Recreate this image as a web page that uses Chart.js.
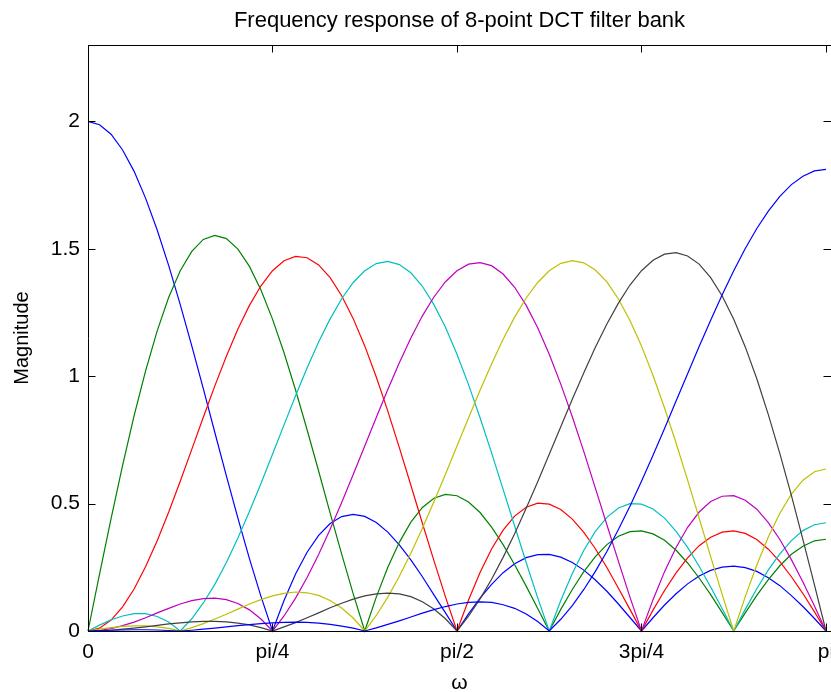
<!DOCTYPE html>
<html>
<head>
<meta charset="utf-8">
<script src="https://cdn.jsdelivr.net/npm/chart.js@4.4.1/dist/chart.umd.min.js"></script>
<style>
  html, body { margin: 0; padding: 0; background: #fff; }
  #wrap { width: 831px; height: 692px; }
</style>
</head>
<body>
<div id="wrap"><canvas id="dctChart" width="831" height="692"></canvas></div>
<script>
// frequency grid, in units of pi (0 .. pi, 65 samples)
const omega = [0, 0.015625, 0.03125, 0.046875, 0.0625, 0.078125, 0.09375, 0.109375, 0.125,
  0.140625, 0.15625, 0.171875, 0.1875, 0.203125, 0.21875, 0.234375, 0.25,
  0.265625, 0.28125, 0.296875, 0.3125, 0.328125, 0.34375, 0.359375, 0.375,
  0.390625, 0.40625, 0.421875, 0.4375, 0.453125, 0.46875, 0.484375, 0.5,
  0.515625, 0.53125, 0.546875, 0.5625, 0.578125, 0.59375, 0.609375, 0.625,
  0.640625, 0.65625, 0.671875, 0.6875, 0.703125, 0.71875, 0.734375, 0.75,
  0.765625, 0.78125, 0.796875, 0.8125, 0.828125, 0.84375, 0.859375, 0.875,
  0.890625, 0.90625, 0.921875, 0.9375, 0.953125, 0.96875, 0.984375, 1];

// magnitude of each filter
const h0 = [2, 1.987, 1.950, 1.888, 1.804, 1.698, 1.574, 1.434, 1.281,
  1.119, 0.951, 0.779, 0.609, 0.443, 0.284, 0.136, 0,
  0.120, 0.224, 0.309, 0.375, 0.422, 0.449, 0.458, 0.450,
  0.426, 0.388, 0.338, 0.279, 0.213, 0.142, 0.071, 0,
  0.067, 0.129, 0.183, 0.229, 0.264, 0.288, 0.300, 0.301,
  0.290, 0.269, 0.239, 0.200, 0.156, 0.106, 0.053, 0,
  0.052, 0.102, 0.146, 0.185, 0.216, 0.238, 0.251, 0.255,
  0.249, 0.234, 0.209, 0.178, 0.139, 0.096, 0.049, 0];
const h1 = [0, 0.223, 0.441, 0.650, 0.845, 1.022, 1.178, 1.310, 1.414,
  1.490, 1.537, 1.553, 1.540, 1.499, 1.431, 1.338, 1.224,
  1.092, 0.946, 0.790, 0.628, 0.463, 0.302, 0.146, 0,
  0.133, 0.250, 0.348, 0.427, 0.485, 0.521, 0.536, 0.531,
  0.506, 0.465, 0.408, 0.339, 0.260, 0.176, 0.088, 0,
  0.085, 0.163, 0.233, 0.292, 0.339, 0.372, 0.390, 0.393,
  0.381, 0.356, 0.317, 0.267, 0.208, 0.143, 0.072, 0,
  0.071, 0.140, 0.202, 0.256, 0.301, 0.333, 0.354, 0.360];
const h2 = [0, 0.011, 0.043, 0.095, 0.165, 0.253, 0.354, 0.467, 0.588,
  0.713, 0.839, 0.962, 1.078, 1.185, 1.278, 1.355, 1.414,
  1.453, 1.470, 1.465, 1.437, 1.387, 1.316, 1.226, 1.119,
  0.997, 0.863, 0.720, 0.572, 0.423, 0.276, 0.134, 0,
  0.122, 0.230, 0.322, 0.396, 0.451, 0.486, 0.502, 0.498,
  0.477, 0.439, 0.387, 0.323, 0.249, 0.168, 0.085, 0,
  0.082, 0.159, 0.228, 0.287, 0.335, 0.368, 0.388, 0.393,
  0.383, 0.359, 0.321, 0.272, 0.213, 0.147, 0.075, 0];
const h3 = [0, 0.023, 0.044, 0.059, 0.068, 0.068, 0.057, 0.035, 0,
  0.048, 0.110, 0.183, 0.269, 0.365, 0.469, 0.579, 0.694,
  0.809, 0.923, 1.032, 1.134, 1.225, 1.304, 1.368, 1.414,
  1.442, 1.451, 1.438, 1.406, 1.353, 1.281, 1.192, 1.086,
  0.967, 0.837, 0.699, 0.556, 0.412, 0.269, 0.130, 0,
  0.120, 0.226, 0.317, 0.391, 0.446, 0.483, 0.500, 0.498,
  0.479, 0.443, 0.391, 0.328, 0.254, 0.173, 0.087, 0,
  0.085, 0.166, 0.240, 0.303, 0.355, 0.394, 0.417, 0.425];
const h4 = [0, 0.002, 0.009, 0.021, 0.035, 0.052, 0.071, 0.089, 0.106,
  0.119, 0.127, 0.129, 0.123, 0.108, 0.083, 0.047, 0,
  0.059, 0.129, 0.210, 0.300, 0.399, 0.504, 0.614, 0.726,
  0.838, 0.948, 1.053, 1.150, 1.237, 1.311, 1.371, 1.414,
  1.440, 1.446, 1.434, 1.401, 1.349, 1.278, 1.190, 1.086,
  0.969, 0.841, 0.704, 0.561, 0.417, 0.273, 0.133, 0,
  0.123, 0.233, 0.328, 0.407, 0.467, 0.508, 0.529, 0.531,
  0.513, 0.478, 0.425, 0.359, 0.280, 0.192, 0.098, 0];
const h5 = [0, 0.007, 0.013, 0.018, 0.020, 0.020, 0.016, 0.010, 0,
  0.013, 0.029, 0.047, 0.066, 0.086, 0.106, 0.123, 0.138,
  0.148, 0.153, 0.150, 0.140, 0.120, 0.090, 0.051, 0,
  0.061, 0.133, 0.215, 0.305, 0.403, 0.507, 0.615, 0.726,
  0.836, 0.945, 1.048, 1.145, 1.232, 1.307, 1.368, 1.414,
  1.443, 1.454, 1.445, 1.417, 1.370, 1.303, 1.219, 1.119,
  1.003, 0.875, 0.738, 0.592, 0.443, 0.292, 0.143, 0,
  0.135, 0.259, 0.369, 0.462, 0.537, 0.592, 0.625, 0.636];
const h6 = [0, 0.001, 0.003, 0.007, 0.011, 0.016, 0.022, 0.028, 0.032,
  0.036, 0.038, 0.038, 0.036, 0.031, 0.024, 0.013, 0,
  0.016, 0.033, 0.052, 0.071, 0.091, 0.109, 0.125, 0.138,
  0.146, 0.149, 0.146, 0.135, 0.115, 0.086, 0.048, 0,
  0.058, 0.126, 0.203, 0.289, 0.382, 0.482, 0.586, 0.694,
  0.802, 0.910, 1.014, 1.114, 1.205, 1.287, 1.358, 1.414,
  1.455, 1.479, 1.485, 1.472, 1.440, 1.387, 1.315, 1.224,
  1.115, 0.990, 0.849, 0.696, 0.532, 0.359, 0.181, 0];
const h7 = [0, 0.002, 0.003, 0.004, 0.005, 0.005, 0.004, 0.002, 0,
  0.003, 0.007, 0.011, 0.016, 0.021, 0.025, 0.029, 0.032,
  0.034, 0.035, 0.034, 0.031, 0.026, 0.019, 0.011, 0,
  0.012, 0.026, 0.040, 0.055, 0.070, 0.084, 0.096, 0.106,
  0.112, 0.114, 0.112, 0.103, 0.089, 0.067, 0.037, 0,
  0.046, 0.100, 0.163, 0.234, 0.312, 0.398, 0.490, 0.588,
  0.690, 0.795, 0.903, 1.010, 1.117, 1.220, 1.320, 1.414,
  1.501, 1.580, 1.648, 1.706, 1.752, 1.785, 1.806, 1.812];

const xTickValues = [0, 0.25, 0.5, 0.75, 1];
const xTickLabels = ['0', 'pi/4', 'pi/2', '3pi/4', 'pi'];
const yTickValues = [0, 0.5, 1, 1.5, 2];
const yTickLabels = ['0', '0.5', '1', '1.5', '2'];

const series = [h0, h1, h2, h3, h4, h5, h6, h7];
const colors = ['#0000ff', '#008000', '#ff0000', '#00bfbf', '#bf00bf', '#bfbf00', '#404040', '#0000ff'];

const FONT = '"Liberation Sans", Arial, Helvetica, sans-serif';

const datasets = series.map((vals, k) => ({
  label: 'h' + k,
  data: vals.map((v, i) => ({ x: omega[i], y: v })),
  borderColor: colors[k],
  borderWidth: 1.2,
  pointRadius: 0,
  tension: 0,
  fill: false,
  clip: false,
  order: series.length - k   // later filters drawn on top, like MATLAB
}));

// box round the axes (right side falls just off the picture), inward ticks, title
const framePlugin = {
  id: 'frame',
  afterDraw(chart) {
    const { ctx, chartArea: a, scales } = chart;
    const tl = 7.5;
    ctx.save();
    ctx.strokeStyle = '#000';
    ctx.lineWidth = 1;
    ctx.beginPath();
    ctx.moveTo(a.right + 2, a.top + 0.5);
    ctx.lineTo(a.left + 0.5, a.top + 0.5);
    ctx.lineTo(a.left + 0.5, a.bottom + 0.5);
    ctx.lineTo(a.right + 2, a.bottom + 0.5);
    xTickValues.forEach(v => {
      const px = Math.round(scales.x.getPixelForValue(v)) + 0.5;
      ctx.moveTo(px, a.bottom); ctx.lineTo(px, a.bottom - tl);
      ctx.moveTo(px, a.top); ctx.lineTo(px, a.top + tl);
    });
    yTickValues.forEach(v => {
      const py = Math.round(scales.y.getPixelForValue(v)) + 0.5;
      ctx.moveTo(a.left, py); ctx.lineTo(a.left + tl, py);
      ctx.moveTo(a.right, py); ctx.lineTo(a.right - tl, py);
    });
    ctx.stroke();

    ctx.fillStyle = '#000';
    ctx.font = '22px ' + FONT;
    ctx.textAlign = 'center';
    ctx.textBaseline = 'alphabetic';
    ctx.fillText('Frequency response of 8-point DCT filter bank', (a.left + a.right) / 2, 27);
    ctx.restore();
  }
};

const ctx = document.getElementById('dctChart').getContext('2d');
new Chart(ctx, {
  type: 'line',
  data: { datasets: datasets },
  options: {
    responsive: false,
    animation: false,
    devicePixelRatio: 1,
    layout: { padding: { top: 45, left: 0, right: 0, bottom: 0 } },
    plugins: {
      legend: { display: false },
      tooltip: { enabled: false },
      title: { display: false }
    },
    scales: {
      x: {
        type: 'linear',
        min: 0,
        max: 1.0068,
        grid: { display: false, drawTicks: false },
        border: { display: false },
        afterBuildTicks: s => { s.ticks = xTickValues.map(v => ({ value: v })); },
        afterFit: s => { s.height = 61; s.paddingLeft = 0; s.paddingRight = 0; },
        ticks: {
          color: '#000',
          padding: 9,
          maxRotation: 0,
          autoSkip: false,
          font: { family: FONT, size: 21 },
          callback: v => xTickLabels[xTickValues.indexOf(v)]
        },
        title: {
          display: true,
          text: 'ω',
          color: '#000',
          font: { family: FONT, size: 21, lineHeight: 1 },
          padding: { top: 0, bottom: -2 }
        }
      },
      y: {
        min: 0,
        max: 2.3,
        grid: { display: false, drawTicks: false },
        border: { display: false },
        afterBuildTicks: s => { s.ticks = yTickValues.map(v => ({ value: v })); },
        afterFit: s => { s.width = 88; s.paddingTop = 0; s.paddingBottom = 0; },
        ticks: {
          color: '#000',
          padding: 8,
          font: { family: FONT, size: 21 },
          callback: v => yTickLabels[yTickValues.indexOf(v)]
        },
        title: {
          display: true,
          text: 'Magnitude',
          color: '#000',
          font: { family: FONT, size: 20 },
          padding: { top: 10, bottom: 0 }
        }
      }
    }
  },
  plugins: [framePlugin]
});
</script>
</body>
</html>
